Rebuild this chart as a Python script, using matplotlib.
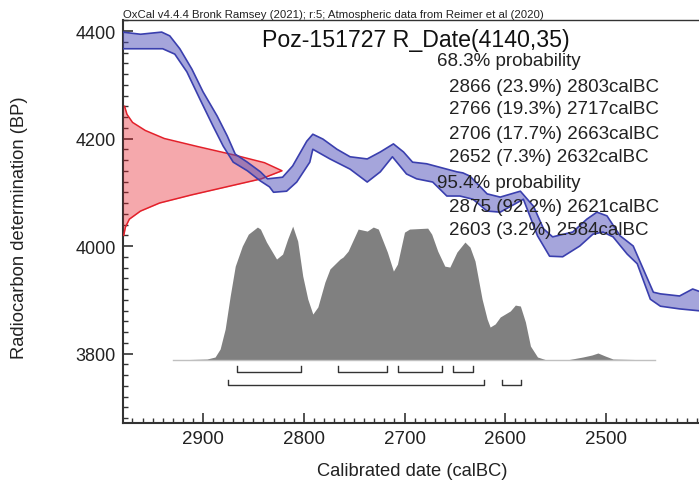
import matplotlib
matplotlib.use("Agg")
import matplotlib.pyplot as plt
import matplotlib.transforms as mtransforms
import numpy as np

plt.rcParams["font.family"] = ["Liberation Sans", "DejaVu Sans"]

# calibration curve (IntCal20), upper and lower 1-sigma edges
cal_up_yr = [2980, 2962, 2941, 2933, 2923, 2911, 2900, 2886, 2876, 2868, 2856, 2843,
             2836, 2821, 2811, 2797, 2791, 2781, 2767, 2754, 2737, 2724, 2711, 2701,
             2692, 2678, 2648, 2642, 2635, 2618, 2605, 2585, 2572, 2562, 2553, 2533,
             2519, 2509, 2499, 2486, 2473, 2453, 2446, 2427, 2414, 2405]
cal_up_bp = [4398, 4394, 4398, 4391, 4367, 4329, 4287, 4242, 4205, 4171, 4156, 4138,
             4125, 4128, 4149, 4195, 4208, 4199, 4180, 4166, 4162, 4175, 4190, 4175,
             4156, 4153, 4138, 4136, 4130, 4097, 4091, 4102, 4074, 4032, 4017, 4026,
             4050, 4063, 4056, 4019, 4000, 3914, 3911, 3907, 3920, 3914]
cal_lo_yr = [2980, 2940, 2928, 2916, 2903, 2890, 2880, 2870, 2856, 2843, 2834, 2830,
             2817, 2807, 2794, 2791, 2774, 2754, 2737, 2724, 2712, 2698, 2688, 2672,
             2658, 2645, 2632, 2618, 2605, 2582, 2568, 2556, 2543, 2526, 2513, 2503,
             2493, 2479, 2469, 2456, 2446, 2427, 2405]
cal_lo_bp = [4367, 4367, 4357, 4324, 4273, 4223, 4186, 4156, 4140, 4121, 4110, 4100,
             4102, 4119, 4156, 4180, 4162, 4143, 4119, 4138, 4166, 4134, 4125, 4119,
             4093, 4093, 4087, 4065, 4063, 4087, 4019, 3981, 3980, 4000, 4022, 4026,
             4017, 3985, 3967, 3901, 3888, 3883, 3879]

# measured date R_Date(4140,35): relative density against BP
date_bp = [4260, 4245, 4230, 4215, 4200, 4185, 4170, 4155, 4140,
           4125, 4110, 4095, 4080, 4065, 4050, 4035, 4020]
date_rel = [0.01, 0.025, 0.06, 0.14, 0.26, 0.47, 0.69, 0.89, 1.0,
            0.87, 0.65, 0.43, 0.23, 0.11, 0.04, 0.015, 0.005]

# calibrated probability (relative) against calBC
post_yr = [2930, 2896, 2888, 2883, 2878, 2873, 2868, 2861, 2855, 2846, 2843, 2837,
           2827, 2821, 2816, 2811, 2806, 2801, 2796, 2791, 2786, 2779, 2774, 2764,
           2761, 2756, 2746, 2737, 2731, 2726, 2717, 2711, 2707, 2700, 2695, 2677,
           2673, 2667, 2660, 2655, 2648, 2640, 2635, 2630, 2623, 2618, 2615, 2610,
           2605, 2595, 2590, 2585, 2580, 2575, 2568, 2559, 2539, 2523, 2514, 2508,
           2501, 2493, 2451]
post_rel = [0, 0.007, 0.022, 0.082, 0.231, 0.478, 0.701, 0.851, 0.94, 0.993, 0.978, 0.881,
            0.754, 0.791, 0.903, 1.0, 0.888, 0.627, 0.455, 0.343, 0.396, 0.582, 0.68, 0.754,
            0.769, 0.813, 0.978, 0.963, 0.993, 0.978, 0.806, 0.664, 0.716, 0.955, 0.978, 0.985,
            0.94, 0.813, 0.701, 0.694, 0.806, 0.881, 0.843, 0.739, 0.455, 0.306, 0.246, 0.269,
            0.321, 0.366, 0.41, 0.403, 0.284, 0.104, 0.022, 0, 0, 0.022, 0.037, 0.052,
            0.03, 0.007, 0]

# ranges (calBC)
ranges_68 = [(2866, 2803), (2766, 2717), (2706, 2663), (2652, 2632)]
ranges_95 = [(2875, 2621), (2603, 2584)]

header = "OxCal v4.4.4 Bronk Ramsey (2021); r:5; Atmospheric data from Reimer et al (2020)"
title = "Poz-151727 R_Date(4140,35)"
lines = [
    ("68.3% probability", 0),
    ("2866 (23.9%) 2803calBC", 1),
    ("2766 (19.3%) 2717calBC", 1),
    ("2706 (17.7%) 2663calBC", 1),
    ("2652 (7.3%) 2632calBC", 1),
    ("95.4% probability", 0),
    ("2875 (92.2%) 2621calBC", 1),
    ("2603 (3.2%) 2584calBC", 1),
]

fig = plt.figure(figsize=(6.99, 4.89), dpi=100)
ax = fig.add_axes([123 / 699, 1 - 424 / 489, 576 / 699, 403 / 489])
ax.set_xlim(2979.4, 2407.7)
ax.set_ylim(3670.7, 4420.5)

dark = "#333333"

# posterior histogram
base, hscale = 3788, 249
post_y = base + np.array(post_rel) * hscale
ax.fill_between(post_yr, base, post_y, color="#808080", lw=0, zorder=2)
ax.plot([post_yr[0], post_yr[-1]], [base, base], color="#c0c0c0", lw=1, zorder=2)

# range brackets
for rngs, yb in ((ranges_68, 3766), (ranges_95, 3741)):
    for a, b in rngs:
        ax.plot([a, a, b, b], [yb + 10, yb, yb, yb + 10], color=dark, lw=1, zorder=3)

# measured date on the y axis
trans = mtransforms.blended_transform_factory(ax.transAxes, ax.transData)
dx = np.array(date_rel) * 0.276
ax.fill_betweenx(date_bp, 0, dx, transform=trans, color=(0.9, 0.1, 0.15), alpha=0.38,
                 lw=0, zorder=3)
ax.plot(dx, date_bp, transform=trans, color="#e3202a", lw=1.1, zorder=4)

# calibration curve band
band_x = np.concatenate([cal_up_yr, cal_lo_yr[::-1]])
band_y = np.concatenate([cal_up_bp, cal_lo_bp[::-1]])
ax.fill(band_x, band_y, color=(0.3, 0.3, 0.72), alpha=0.5, lw=0, zorder=5)
ax.plot(cal_up_yr, cal_up_bp, color="#3a3fae", lw=1.2, zorder=6)
ax.plot(cal_lo_yr, cal_lo_bp, color="#3a3fae", lw=1.2, zorder=6)

# frame
ax.spines["right"].set_visible(False)
ax.spines["left"].set_linewidth(1.5)
ax.spines["bottom"].set_linewidth(1.5)
ax.spines["top"].set_linewidth(1.0)
for s in ("left", "bottom", "top"):
    ax.spines[s].set_color(dark)

ax.set_xticks([2900, 2800, 2700, 2600, 2500])
ax.set_xticks(np.arange(2970, 2400, -10), minor=True)
ax.set_yticks([3800, 4000, 4200, 4400])
ax.set_yticks(np.arange(3680, 4421, 20), minor=True)
ax.tick_params(which="both", direction="in", color=dark, top=False, right=False)
ax.tick_params(which="major", length=7, width=1.2, labelsize=13.5, pad=5, labelcolor="#222222")
ax.tick_params(axis="y", which="major", labelsize=13)
ax.tick_params(which="minor", length=3.5, width=1.0)

# text
fig.text(123 / 699, 1 - 15 / 489, header, fontsize=8.2, va="center", ha="left", color="#222222")
fig.text(416 / 699, 1 - 40 / 489, title, fontsize=16.7, va="center", ha="center", color="#111111")
ys = [62, 87, 110, 135, 158, 183, 207, 231]
for (txt, ind), yy in zip(lines, ys):
    xx = 437 if ind == 0 else 449
    fig.text(xx / 699, 1 - yy / 489, txt, fontsize=13.5, va="center", ha="left", color="#222222")

fig.text(20 / 699, 1 - 228 / 489, "Radiocarbon determination (BP)", fontsize=13.2,
         rotation=90, va="center", ha="center", color="#222222")
fig.text(412 / 699, 1 - 472 / 489, "Calibrated date (calBC)", fontsize=13.2,
         va="center", ha="center", color="#222222")

fig.savefig("out.png", dpi=100)
